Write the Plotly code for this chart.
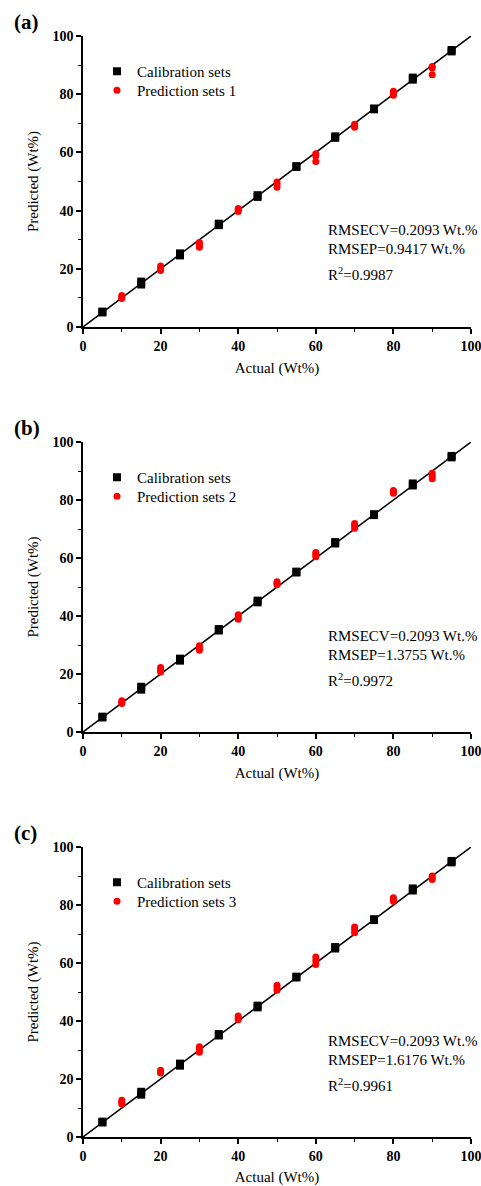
import plotly.graph_objects as go

# ---------------- data ----------------
calib_actual = [5, 5, 15, 15, 25, 25, 35, 35, 45, 45, 55, 55, 65, 65, 75, 75, 85, 85, 95, 95]
calib_pred = [5.0, 5.3, 14.6, 15.6, 24.6, 25.3, 35.0, 35.5, 44.7, 45.3,
              55.0, 55.3, 65.0, 65.5, 74.8, 75.1, 85.0, 85.7, 94.7, 95.2]

pred_actual = [10, 10, 10, 20, 20, 20, 30, 30, 30, 40, 40, 40, 50, 50, 50,
               60, 60, 60, 70, 70, 70, 80, 80, 80, 90, 90, 90]
pred_set1 = [9.8, 10.3, 10.8, 19.4, 20.2, 21.0, 27.4, 28.2, 29.0, 39.7, 40.2, 40.7,
             48.0, 49.0, 49.8, 56.9, 58.8, 59.5, 68.6, 69.1, 69.7, 79.6, 80.3, 81.0,
             86.7, 89.0, 89.5]
pred_set2 = [9.8, 10.3, 10.8, 20.7, 21.5, 22.2, 28.2, 29.0, 29.7, 38.9, 39.6, 40.4,
             50.8, 51.3, 51.8, 60.4, 61.2, 61.9, 70.3, 71.1, 71.9, 82.3, 82.8, 83.3,
             87.3, 88.2, 89.2]
pred_set3 = [11.4, 12.0, 12.7, 22.1, 22.5, 23.0, 29.2, 30.2, 31.1, 40.4, 41.0, 41.7,
             50.6, 51.5, 52.3, 59.5, 60.8, 62.1, 70.4, 71.4, 72.4, 81.3, 81.9, 82.5,
             88.8, 89.4, 90.0]

ideal_x = [0, 100]
ideal_y = [0, 100]

panel_labels = ["(a)", "(b)", "(c)"]
pred_names = ["Prediction sets 1", "Prediction sets 2", "Prediction sets 3"]
rmsecv = ["0.2093", "0.2093", "0.2093"]
rmsep = ["0.9417", "1.3755", "1.6176"]
r2 = ["0.9987", "0.9972", "0.9961"]
tick_vals = [0, 20, 40, 60, 80, 100]
tick_text = ["0", "20", "40", "60", "80", "100"]
minor_vals = [10, 30, 50, 70, 90]
pred_sets = [pred_set1, pred_set2, pred_set3]

# ---------------- layout ----------------
W, H = 481, 1186
FONT = "Liberation Serif"


def px_x(p):
    return p / W


def px_y(p):
    return 1 - p / H


x_dom = [px_x(83), px_x(471)]
plot_px = [(36, 327), (442, 732), (847, 1137)]  # top, bottom in window pixels

fig = go.Figure()
leg_idx = 1

for i in range(3):
    sfx = "" if i == 0 else str(i + 1)
    xa, ya = "x" + sfx, "y" + sfx
    top, bot = plot_px[i]

    leg_a = "legend" if leg_idx == 1 else "legend" + str(leg_idx)
    leg_b = "legend" + str(leg_idx + 1)
    leg_idx += 2

    fig.add_trace(go.Scatter(x=ideal_x, y=ideal_y, mode="lines",
                             line=dict(color="black", width=1.5),
                             showlegend=False, xaxis=xa, yaxis=ya, hoverinfo="skip"))
    fig.add_trace(go.Scatter(x=calib_actual, y=calib_pred, mode="markers",
                             name="Calibration sets",
                             marker=dict(symbol="square", size=8, color="black"),
                             xaxis=xa, yaxis=ya, legend=leg_a))
    fig.add_trace(go.Scatter(x=pred_actual, y=pred_sets[i], mode="markers",
                             name=pred_names[i],
                             marker=dict(symbol="circle", size=7, color="#ff0000"),
                             xaxis=xa, yaxis=ya, legend=leg_b))

    y_dom = [px_y(bot), px_y(top)]
    axis_common = dict(range=[0, 100], showline=True, linecolor="black", linewidth=1.5,
                       ticks="outside", ticklen=5, tickwidth=1.5, tickcolor="black",
                       tickvals=tick_vals, ticktext=tick_text, showgrid=False, zeroline=False,
                       minor=dict(ticks="outside", ticklen=3, tickwidth=1, tickcolor="black",
                                  tickvals=minor_vals, showgrid=False),
                       tickfont=dict(family=FONT, size=14, color="black", weight="bold"),
                       mirror=False, automargin=False, ticklabeloverflow="allow")
    fig.layout["xaxis" + sfx] = dict(axis_common, domain=x_dom, anchor=ya,
                                     title=dict(text="Actual (Wt%)", standoff=10,
                                                font=dict(family=FONT, size=15, color="black")))
    fig.layout["yaxis" + sfx] = dict(axis_common, domain=y_dom, anchor=xa,
                                     title=dict(text="Predicted (Wt%)", standoff=10,
                                                font=dict(family=FONT, size=15, color="black")))

    for leg, row_center in ((leg_a, top + 36), (leg_b, top + 55)):
        fig.layout[leg] = dict(x=px_x(97), y=px_y(row_center - 17), xanchor="left",
                               yanchor="top", bgcolor="rgba(0,0,0,0)", borderwidth=0,
                               font=dict(family=FONT, size=15, color="black"),
                               tracegroupgap=0, itemwidth=30)

    # panel label
    fig.add_annotation(text="<b>" + panel_labels[i] + "</b>", xref="paper", yref="paper",
                       x=px_x(12), y=px_y(top - 14), xanchor="left", yanchor="middle",
                       showarrow=False, font=dict(family=FONT, size=21, color="black"))
    # statistics
    stats = ["RMSECV=" + rmsecv[i] + " Wt.%", "RMSEP=" + rmsep[i] + " Wt.%",
             "R<sup>2</sup>=" + r2[i]]
    offsets = [194, 213, 238]
    for s, off in zip(stats, offsets):
        fig.add_annotation(text=s, xref="paper", yref="paper",
                           x=px_x(326), y=px_y(top + off), xanchor="left", yanchor="middle",
                           showarrow=False, font=dict(family=FONT, size=15, color="black"))

fig.update_layout(template="none", width=W, height=H, margin=dict(l=0, r=0, t=0, b=0),
                  paper_bgcolor="white", plot_bgcolor="white",
                  font=dict(family=FONT, color="black"))

# remove the default 8px page margin so the figure fills the window exactly
fig.write_html("out.html",
               config={"displayModeBar": False},
               post_script="document.body.style.margin='0px';"
                           "document.body.style.padding='0px';"
                           "document.body.style.overflow='hidden';")
